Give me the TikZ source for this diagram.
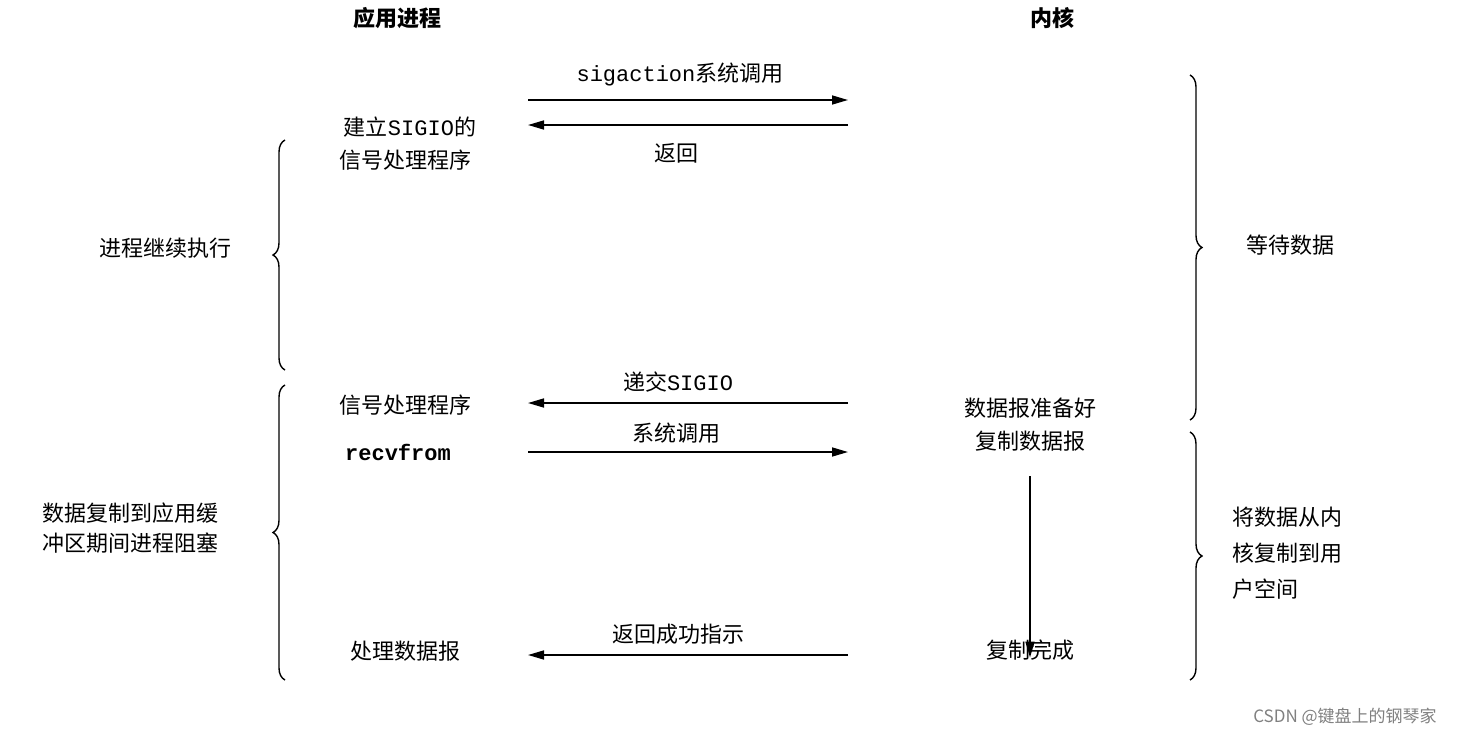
\documentclass[tikz,border=0pt]{standalone}
\usepackage{fontspec}
\setmainfont{Noto Sans CJK SC}
\newfontfamily\monof{Liberation Mono}
\usetikzlibrary{decorations.pathreplacing,arrows.meta}
\begin{document}
\begin{tikzpicture}[x=1pt,y=-1pt,
  txt/.style={inner sep=0pt,font=\fontsize{22}{30}\selectfont},
  hd/.style={txt,font=\fontsize{22}{30}\selectfont\bfseries},
  arr/.style={line width=1.6pt,-{Triangle[length=16pt,width=9pt]}},
  brc/.style={line width=1.4pt,decorate,decoration={brace,amplitude=12pt}}]
\useasboundingbox (0,0) rectangle (1468,736);
\node[hd] (app) at (397,18) {应用进程};
\node[hd] (ker) at (1052,18) {内核};
% sigaction
\coordinate (a1) at (528,100); \coordinate (b1) at (848,100);
\draw[arr] (a1) -- (b1);
\node[txt] (l1) at (680,74) {{\monof sigaction}系统调用};
\coordinate (a2) at (528,125); \coordinate (b2) at (848,125);
\draw[arr] (b2) -- (a2);
\node[txt] (l2) at (676,153) {返回};
\node[txt] (s1) at (410,127) {建立{\monof SIGIO}的};
\node[txt] (s2) at (405,160) {信号处理程序};
% braces
\coordinate (lb1b) at (285,370); \coordinate (lb1t) at (285,140);
\draw[brc] (lb1b) -- (lb1t);
\node[txt] (cont) at (165,248) {进程继续执行};
\coordinate (rb1t) at (1190,75); \coordinate (rb1b) at (1190,420);
\draw[brc] (rb1t) -- (rb1b);
\node[txt] (wait) at (1290,245) {等待数据};
% SIGIO delivery
\node[txt] (l3) at (678,382) {递交{\monof SIGIO}};
\coordinate (a3) at (528,403); \coordinate (b3) at (848,403);
\draw[arr] (b3) -- (a3);
\node[txt] (h1) at (405,405) {信号处理程序};
\node[txt] (rdy) at (1030,408) {数据报准备好};
% recvfrom
\node[txt] (l4) at (676,433) {系统调用};
\coordinate (a4) at (528,452); \coordinate (b4) at (848,452);
\draw[arr] (a4) -- (b4);
\node[txt,font=\fontsize{22}{30}\selectfont\monof\bfseries] (rv) at (398,452) {recvfrom};
\node[txt] (cp) at (1030,441) {复制数据报};
\node[txt] (done) at (1030,650) {复制完成};
\draw[arr] (cp.south)++(0,25) coordinate (vs) (vs) -- ([yshift=-18pt]done.north);
% second braces
\coordinate (lb2b) at (285,680); \coordinate (lb2t) at (285,385);
\draw[brc] (lb2b) -- (lb2t);
\node[txt,align=left] (blk) at (130,528) {数据复制到应用缓\\冲区期间进程阻塞};
\coordinate (rb2t) at (1190,432); \coordinate (rb2b) at (1190,680);
\draw[brc] (rb2t) -- (rb2b);
\node[txt,align=left,anchor=west,font=\fontsize{22}{36}\selectfont] (cpy) at (1232,553) {将数据从内\\核复制到用\\户空间};
% return
\node[txt] (l5) at (678,634) {返回成功指示};
\coordinate (a5) at (528,655); \coordinate (b5) at (848,655);
\draw[arr] (b5) -- (a5);
\node[txt] (proc) at (405,651) {处理数据报};
\node[txt,text=gray,font=\fontsize{17}{20}\selectfont] (wm) at (1345,717) {CSDN @键盘上的钢琴家};
\end{tikzpicture}
\end{document}
